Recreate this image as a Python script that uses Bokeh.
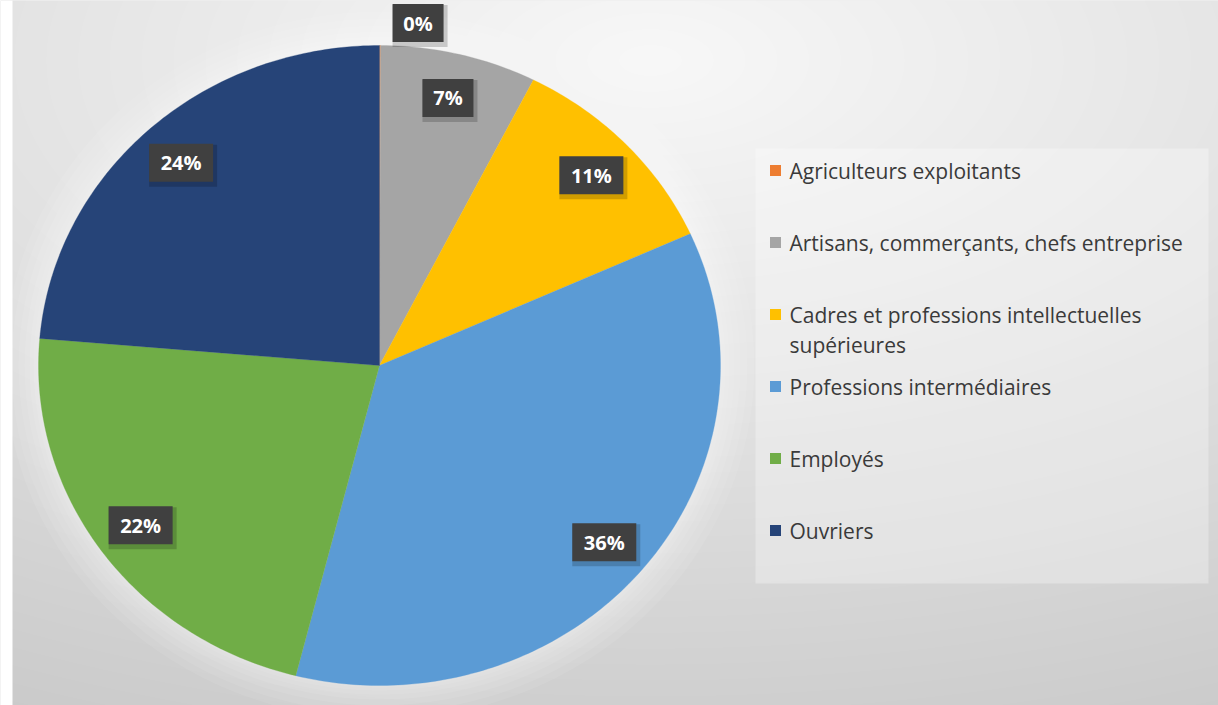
import textwrap
import numpy as np
from bokeh.plotting import figure
from bokeh.models import Range1d
from bokeh.core.properties import value
from bokeh.embed import file_html
from bokeh.resources import INLINE

# ---- data ----
categories = [
    "Agriculteurs exploitants",
    "Artisans, commerçants, chefs entreprise",
    "Cadres et professions intellectuelles supérieures",
    "Professions intermédiaires",
    "Employés",
    "Ouvriers",
]
shares = [0.05, 7.4, 10.8, 35.7, 22.4, 23.65]
colors = ["#ED7D31", "#A5A5A5", "#FFC000", "#5B9BD5", "#70AD47", "#264478"]

# ---- layout (reference pixel coordinates) ----
W, H = 1218, 705


def Y(py):
    return H - py


CX, CY = 379, Y(365)
RX, RY = 341, 320
FONT = value("Open Sans")

p = figure(width=W, height=H, x_range=Range1d(0, W), y_range=Range1d(0, H),
           output_backend="svg", toolbar_location=None, min_border=0)
p.axis.visible = False
p.grid.visible = False
p.outline_line_color = None
p.border_fill_color = "white"
p.background_fill_color = "#e0e0e0"

# background gradient (styling only)
jj, ii = np.mgrid[0:H, 0:W]
px = ii + 0.5
py = H - (jj + 0.5)
t = np.sqrt(((px - 650) / 1400.0) ** 2 + ((py - 60) / 700.0) ** 2)
v = np.clip(248 - 44 * t, 190, 250)
v[px < 12] = 255
img = np.empty((H, W), dtype=np.uint32)
view = img.view(dtype=np.uint8).reshape((H, W, 4))
view[:, :, 0] = v
view[:, :, 1] = v
view[:, :, 2] = v
view[:, :, 3] = 255
p.image_rgba(image=[img], x=0, y=0, dw=W, dh=H)

# soft glow around the pie
for d in [34, 27, 20, 14, 9, 5, 2]:
    p.ellipse(x=CX, y=CY, width=2 * (RX + d), height=2 * (RY + d),
              fill_color="white", fill_alpha=0.08, line_color=None)

# pie slices
vals = np.array(shares, dtype=float)
fr = vals / vals.sum()
ends = np.cumsum(fr)
starts = ends - fr
xs_list, ys_list = [], []
for s, e in zip(starts, ends):
    n = max(4, int((e - s) * 400))
    a = np.linspace(s, e, n) * 2 * np.pi
    xs_list.append([CX] + list(CX + RX * np.sin(a)))
    ys_list.append([CY] + list(CY + RY * np.cos(a)))
p.patches(xs_list, ys_list, fill_color=colors, line_color=colors, line_width=0.3)

# data labels
lx, ly, lt, lw = [], [], [], []
for s, e, val in zip(starts, ends, vals):
    mid = (s + e) / 2 * 2 * np.pi
    if val < 1:
        r = 1.07
        x = CX + r * RX * np.sin(mid) + 38
    else:
        r = 0.86
        x = CX + r * RX * np.sin(mid)
    y = CY + r * RY * np.cos(mid)
    txt = f"{int(round(val))}%"
    lx.append(x)
    ly.append(y)
    lt.append(txt)
    lw.append(25 + 13 * len(txt))

p.rect(x=[x + 2 for x in lx], y=[y - 3 for y in ly], width=[w + 4 for w in lw], height=42,
       fill_color="black", fill_alpha=0.18, line_color=None)
p.rect(x=lx, y=ly, width=lw, height=38, fill_color="#404040", line_color=None)
p.text(x=lx, y=ly, text=lt, text_align="center", text_baseline="middle",
       text_color="white", text_font=FONT, text_font_style="bold", text_font_size="20px")

# legend
p.quad(left=755, right=1208, top=Y(148), bottom=Y(583), fill_color="white",
       fill_alpha=0.3, line_color=None)
row0, step = 170, 72
mx, my, tx, ty, tt = [], [], [], [], []
for i, cat in enumerate(categories):
    ry = Y(row0 + i * step)
    mx.append(775)
    my.append(ry)
    for k, line in enumerate(textwrap.wrap(cat, 40)):
        tx.append(789)
        ty.append(ry - k * 30)
        tt.append(line)
p.rect(x=mx, y=my, width=11, height=11, fill_color=colors, line_color=None)
p.text(x=tx, y=ty, text=tt, text_align="left", text_baseline="middle",
       text_color="#3a3a3a", text_font=FONT, text_font_size="21px")

open("out.html", "w").write(file_html(p, INLINE))
